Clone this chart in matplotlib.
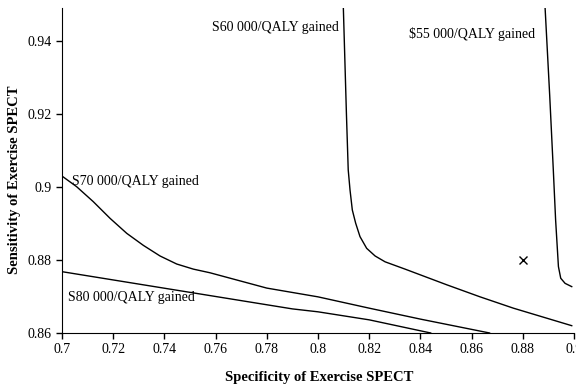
import numpy as np
import matplotlib
matplotlib.use('Agg')
import matplotlib.pyplot as plt

plt.rcParams['font.family'] = ['Liberation Serif', 'DejaVu Serif']

# threshold curves (specificity, sensitivity)
x70 = [0.7, 0.7057, 0.7122, 0.7188, 0.7253, 0.7318, 0.7383, 0.7448, 0.7513, 0.7578,
       0.78, 0.8, 0.82, 0.84, 0.867]
y70 = [0.903, 0.9001, 0.8960, 0.8914, 0.8873, 0.8840, 0.8811, 0.8789, 0.8775, 0.8765,
       0.8723, 0.8699, 0.8668, 0.8638, 0.86]

x80 = [0.7, 0.79, 0.8, 0.82, 0.844]
y80 = [0.8768, 0.8666, 0.8658, 0.8636, 0.86]

x60 = [0.8099, 0.8111, 0.8118, 0.8125, 0.8134, 0.8147, 0.8164, 0.8190, 0.8223, 0.8262,
       0.8340, 0.8503, 0.8633, 0.8763, 0.8991]
y60 = [0.949, 0.92, 0.9047, 0.8992, 0.8937, 0.8901, 0.8864, 0.8832, 0.8811, 0.8795,
       0.8775, 0.8732, 0.8699, 0.8668, 0.8620]

x55 = [0.8887, 0.8905, 0.8919, 0.8928, 0.8939, 0.8948, 0.8965, 0.8991]
y55 = [0.949, 0.925, 0.9047, 0.8910, 0.8782, 0.8750, 0.8736, 0.8727]

point_x, point_y = 0.88, 0.88

labels = ['S60 000/QALY gained', '\\$55 000/QALY gained', 'S70 000/QALY gained', 'S80 000/QALY gained']
label_pos = [(0.7586, 0.9438), (0.8355, 0.9419), (0.7039, 0.9014), (0.7023, 0.8696)]

xticks = [0.7, 0.72, 0.74, 0.76, 0.78, 0.8, 0.82, 0.84, 0.86, 0.88, 0.9]
xticklabels = ['0.7', '0.72', '0.74', '0.76', '0.78', '0.8', '0.82', '0.84', '0.86', '0.88', '0.9']
yticks = [0.86, 0.88, 0.9, 0.92, 0.94]
yticklabels = ['0.86', '0.88', '0.9', '0.92', '0.94']

fig = plt.figure(figsize=(5.76, 3.89), dpi=100)
ax = fig.add_axes([0.1076, 0.144, 0.889, 0.835])

for xs, ys in [(x70, y70), (x80, y80), (x60, y60), (x55, y55)]:
    ax.plot(xs, ys, color='black', lw=1)
ax.plot(point_x, point_y, 'x', color='black', ms=6, mew=1)

for txt, (tx, ty) in zip(labels, label_pos):
    ax.text(tx, ty, txt, fontsize=10, va='center', ha='left')

ax.set_xlim(0.7, 0.9)
ax.set_ylim(0.86, 0.949)
ax.set_xticks(xticks)
ax.set_xticklabels(xticklabels)
ax.set_yticks(yticks)
ax.set_yticklabels(yticklabels)
ax.tick_params(direction='out', length=4, width=1, labelsize=10)
ax.spines['top'].set_visible(False)
ax.spines['right'].set_visible(False)

ax.set_xlabel('Specificity of Exercise SPECT', fontsize=10.5, fontweight='bold')
ax.set_ylabel('Sensitivity of Exercise SPECT', fontsize=10.5, fontweight='bold')
ax.xaxis.set_label_coords(0.502, -0.138)
ax.yaxis.set_label_coords(-0.092, 0.471)
ax.xaxis.label.set_va('center')
ax.yaxis.label.set_va('center')

fig.savefig('out.png', dpi=100)
